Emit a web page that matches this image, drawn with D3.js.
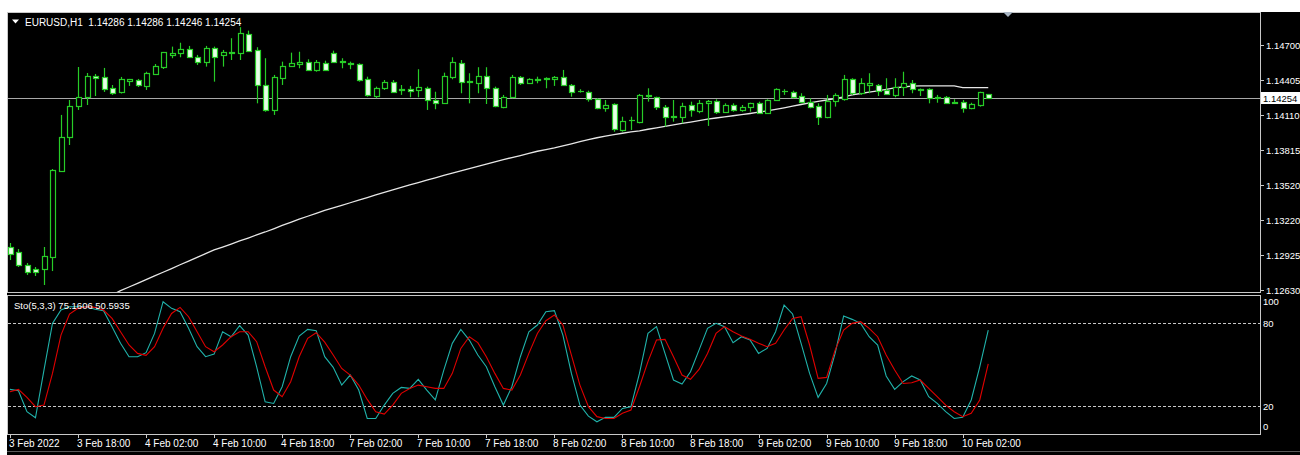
<!DOCTYPE html>
<html><head><meta charset="utf-8">
<script src="https://cdn.jsdelivr.net/npm/d3@7"></script>
<style>
html,body{margin:0;padding:0;background:#fff;}
svg{display:block;}
text{font-family:"Liberation Sans",Arial,sans-serif;}
</style></head><body>
<svg id="c" width="1300" height="455"></svg>
<script>
const symbolTitle = "EURUSD,H1";
const lastQuote = ["1.14286", "1.14286", "1.14246", "1.14254"];
const stoTitle = "Sto(5,3,3)";
const stoLast = ["75.1606", "50.5935"];

const opens = [1.12993,1.12951,1.12841,1.12807,1.12807,1.12909,1.13635,1.13923,1.14185,1.14261,
1.14438,1.14430,1.14337,1.14303,1.14396,1.14404,1.14354,1.14455,1.14517,1.14616,
1.14630,1.14664,1.14601,1.14559,1.14672,1.14616,1.14628,1.14630,1.14790,1.14658,
1.14362,1.14151,1.14419,1.14525,1.14539,1.14559,1.14489,1.14550,1.14635,1.14556,
1.14548,1.14537,1.14413,1.14269,1.14334,1.14390,1.14324,1.14326,1.14320,1.14339,
1.14235,1.14207,1.14427,1.14550,1.14396,1.14381,1.14438,1.14339,1.14179,1.14258,
1.14427,1.14381,1.14413,1.14410,1.14410,1.14427,1.14362,1.14314,1.14305,1.14241,
1.14165,1.14201,1.13982,1.14062,1.14052,1.14269,1.14258,1.14179,1.14098,1.14089,
1.14193,1.14145,1.14207,1.14229,1.14136,1.14193,1.14151,1.14179,1.14207,1.14128,
1.14235,1.14309,1.14305,1.14269,1.14221,1.14185,1.14089,1.14229,1.14241,1.14410,
1.14292,1.14362,1.14362,1.14320,1.14278,1.14343,1.14376,1.14328,1.14326,1.14261,
1.14258,1.14216,1.14221,1.14165,1.14193,1.14286];
const highs = [1.13027,1.12976,1.12858,1.12824,1.12993,1.13652,1.14109,1.14235,1.14514,1.14463,
1.14455,1.14506,1.14362,1.14430,1.14413,1.14413,1.14474,1.14539,1.14641,1.14686,
1.14719,1.14692,1.14616,1.14692,1.14686,1.14658,1.14757,1.14850,1.14821,1.14681,
1.14588,1.14447,1.14559,1.14635,1.14643,1.14579,1.14573,1.14567,1.14652,1.14588,
1.14559,1.14545,1.14432,1.14348,1.14404,1.14404,1.14362,1.14354,1.14495,1.14348,
1.14305,1.14466,1.14596,1.14573,1.14461,1.14512,1.14512,1.14348,1.14278,1.14447,
1.14438,1.14419,1.14432,1.14427,1.14438,1.14489,1.14370,1.14326,1.14314,1.14250,
1.14235,1.14207,1.14094,1.14094,1.14286,1.14334,1.14263,1.14193,1.14235,1.14212,
1.14221,1.14235,1.14235,1.14241,1.14207,1.14207,1.14193,1.14212,1.14221,1.14241,
1.14334,1.14326,1.14314,1.14292,1.14250,1.14207,1.14278,1.14292,1.14447,1.14419,
1.14419,1.14461,1.14370,1.14419,1.14419,1.14474,1.14404,1.14332,1.14334,1.14278,
1.14269,1.14241,1.14235,1.14212,1.14305,1.14286];
const lows = [1.12883,1.12824,1.12757,1.12748,1.12672,1.12790,1.13627,1.13855,1.14151,1.14193,
1.14269,1.14303,1.14278,1.14290,1.14354,1.14345,1.14320,1.14447,1.14497,1.14588,
1.14596,1.14596,1.14531,1.14517,1.14390,1.14517,1.14573,1.14573,1.14643,1.14207,
1.14136,1.14109,1.14362,1.14517,1.14503,1.14483,1.14474,1.14483,1.14550,1.14503,
1.14495,1.14390,1.14263,1.14250,1.14320,1.14297,1.14278,1.14258,1.14258,1.14151,
1.14157,1.14201,1.14410,1.14292,1.14207,1.14292,1.14201,1.14174,1.14165,1.14250,
1.14362,1.14370,1.14376,1.14334,1.14354,1.14354,1.14263,1.14297,1.14221,1.14157,
1.14136,1.13967,1.13967,1.13982,1.14038,1.14221,1.14151,1.14010,1.14052,1.14038,
1.14094,1.14123,1.14016,1.14117,1.14128,1.14136,1.14136,1.14136,1.14123,1.14123,
1.14229,1.14278,1.14250,1.14207,1.14165,1.14024,1.14081,1.14179,1.14229,1.14278,
1.14278,1.14292,1.14269,1.14278,1.14258,1.14269,1.14292,1.14269,1.14207,1.14212,
1.14207,1.14201,1.14128,1.14157,1.14179,1.14246];
const closes = [1.12934,1.12841,1.12782,1.12782,1.12917,1.13644,1.13923,1.14185,1.14261,1.14438,
1.14425,1.14328,1.14294,1.14413,1.14409,1.14362,1.14459,1.14523,1.14638,1.14630,
1.14664,1.14601,1.14559,1.14677,1.14601,1.14643,1.14641,1.14799,1.14652,1.14362,
1.14151,1.14427,1.14523,1.14550,1.14559,1.14489,1.14559,1.14489,1.14559,1.14565,
1.14535,1.14404,1.14278,1.14334,1.14390,1.14305,1.14316,1.14311,1.14343,1.14235,
1.14212,1.14438,1.14559,1.14390,1.14387,1.14438,1.14339,1.14185,1.14263,1.14432,
1.14381,1.14410,1.14408,1.14424,1.14432,1.14362,1.14305,1.14309,1.14241,1.14165,
1.14193,1.13988,1.14058,1.14070,1.14278,1.14278,1.14179,1.14089,1.14092,1.14185,
1.14151,1.14212,1.14229,1.14136,1.14193,1.14151,1.14179,1.14207,1.14128,1.14235,
1.14326,1.14314,1.14263,1.14221,1.14179,1.14089,1.14229,1.14278,1.14410,1.14292,
1.14381,1.14381,1.14314,1.14286,1.14343,1.14376,1.14326,1.14320,1.14250,1.14255,
1.14212,1.14210,1.14165,1.14201,1.14300,1.14254];

// moving average (white line), first value belongs to bar index maStart
const maStart = 12;
const maValues = [1.12588,1.12624,1.12655,1.12686,1.12718,1.12749,1.12780,1.12811,1.12843,1.12874,1.12905,1.12937,1.12968,
1.12993,1.13018,1.13044,1.13069,1.13095,1.13120,1.13147,1.13175,1.13202,1.13228,1.13253,1.13278,1.13302,
1.13323,1.13345,1.13367,1.13389,1.13411,1.13433,1.13454,1.13475,1.13496,1.13517,1.13537,1.13558,1.13578,
1.13598,1.13618,1.13637,1.13656,1.13675,1.13694,1.13712,1.13731,1.13749,1.13766,1.13784,1.13802,1.13816,
1.13831,1.13848,1.13865,1.13883,1.13901,1.13916,1.13929,1.13942,1.13954,1.13965,1.13975,1.13988,1.14000,
1.14012,1.14024,1.14037,1.14049,1.14061,1.14073,1.14083,1.14092,1.14102,1.14111,1.14121,1.14132,1.14143,
1.14156,1.14169,1.14183,1.14197,1.14211,1.14223,1.14235,1.14247,1.14262,1.14278,1.14290,1.14301,1.14313,
1.14325,1.14337,1.14345,1.14352,1.14354,1.14354,1.14354,1.14354,1.14354,1.14339,1.14339,1.14339,1.14339];

const stoK = [32.1,31.1,15.9,11.5,46.1,80.0,89.7,92.1,92.1,92.1,
90.2,89.2,77.6,65.5,55.8,55.8,58.7,72.7,95.7,90.9,
88.5,76.4,63.1,55.8,57.7,73.9,70.3,78.3,71.5,48.5,
23.1,21.9,34.0,55.8,70.8,75.6,74.7,55.8,48.1,35.2,
42.5,31.6,11.0,11.0,20.7,29.2,33.5,32.8,39.4,31.6,
24.4,46.1,65.5,75.6,67.9,57.0,48.5,34.0,20.7,34.0,
55.8,73.9,78.8,88.5,89.2,71.5,43.7,20.7,12.7,8.6,
11.8,11.8,18.3,19.5,43.7,72.7,77.6,58.2,38.9,36.0,
44.9,60.6,76.4,80.0,77.6,66.0,70.3,67.9,58.2,61.8,
73.9,93.3,86.8,65.5,43.7,26.3,36.4,58.2,85.3,82.9,
80.0,70.3,64.3,41.8,32.1,37.7,41.8,38.9,26.8,21.9,
15.9,11.0,11.8,24.4,48.5,75.1606];
const stoD = [30.4,32.1,26.3,19.5,20.7,43.7,71.5,86.8,90.9,92.1,
91.6,89.7,83.6,73.9,64.3,58.2,56.8,63.1,76.4,87.2,
91.6,84.8,73.9,63.1,59.4,64.3,70.3,73.9,73.9,66.7,
48.5,31.6,26.8,37.7,55.8,69.1,73.2,66.4,57.0,47.3,
42.5,35.2,24.8,15.9,14.2,20.7,29.2,32.8,35.2,34.0,
32.8,32.8,43.7,61.8,70.3,66.0,55.8,43.7,32.8,31.6,
42.5,58.2,72.7,81.9,86.0,78.8,57.0,35.2,19.5,12.3,
11.0,11.0,14.7,17.1,34.0,52.2,67.9,68.4,55.8,42.5,
39.4,46.6,58.2,72.7,77.6,73.9,70.8,68.4,65.5,63.1,
65.5,75.2,83.6,84.8,64.3,40.1,40.8,60.6,75.2,80.0,
81.2,76.4,70.3,57.0,46.1,36.4,36.9,38.9,32.8,26.8,
20.7,15.9,12.3,14.7,24.4,50.5935];

const priceTicks = ["1.14700","1.14405","1.14110","1.13815","1.13520","1.13220","1.12925","1.12630"];
const bidPrice = 1.14254;
const stoTicks = [100, 80, 20, 0];
const stoLevels = [80, 20];
const timeTickBars = [0,8,16,24,32,40,48,56,64,72,80,88,96,104,112];
const timeTickLabels = ["3 Feb 2022","3 Feb 18:00","4 Feb 02:00","4 Feb 10:00","4 Feb 18:00",
"7 Feb 02:00","7 Feb 10:00","7 Feb 18:00","8 Feb 02:00","8 Feb 10:00",
"8 Feb 18:00","9 Feb 02:00","9 Feb 10:00","9 Feb 18:00","10 Feb 02:00"];

// ---------- layout ----------
const W = 1300, H = 455;
const plotL = 8, plotR = 1260, mainT = 13, mainB = 292, stoT = 296, stoB = 434;
const frame = "#c8c8c8";
const candleColor = "#27cc27";
const bearFill = "#e6ffe6";

const svg = d3.select("#c");
svg.append("rect").attr("width", W).attr("height", H).attr("fill", "#fff");
svg.append("rect").attr("x", 7).attr("y", 12).attr("width", W - 7).attr("height", H - 12).attr("fill", "#000");

const defs = svg.append("defs");
defs.append("clipPath").attr("id", "clipMain").append("rect")
  .attr("x", plotL).attr("y", mainT).attr("width", plotR - plotL).attr("height", mainB - mainT);
defs.append("clipPath").attr("id", "clipSto").append("rect")
  .attr("x", plotL).attr("y", stoT).attr("width", plotR - plotL).attr("height", stoB - stoT);

const x = d3.scaleLinear().domain([0, 115]).range([9.94, 988.25]);
const y = d3.scaleLinear().domain([1.12613, 1.14970]).range([mainB, mainT]);
const ys = d3.scaleLinear().domain([0, 100]).range([433.6, 295.8]);
const crisp = v => Math.round(v) + 0.5;

// frames
svg.append("rect").attr("x", 7.5).attr("y", 12.5).attr("width", plotR - 7).attr("height", mainB - 12)
  .attr("fill", "none").attr("stroke", frame);
svg.append("rect").attr("x", 7.5).attr("y", 295.5).attr("width", plotR - 7).attr("height", stoB - 295)
  .attr("fill", "none").attr("stroke", frame);
svg.append("line").attr("x1", 7).attr("x2", W).attr("y1", 451.5).attr("y2", 451.5).attr("stroke", "#5a5a5a");

// price axis
const pAxis = svg.append("g");
priceTicks.forEach(t => {
  const yy = crisp(y(+t));
  pAxis.append("line").attr("x1", plotR).attr("x2", plotR + 4).attr("y1", yy).attr("y2", yy).attr("stroke", frame);
  pAxis.append("text").attr("x", 1266).attr("y", yy + 3.5).attr("fill", "#fff")
    .attr("font-size", "9.5px").text(t);
});

// bid line
const yb = crisp(y(bidPrice));
svg.append("line").attr("x1", plotL).attr("x2", plotR).attr("y1", yb).attr("y2", yb).attr("stroke", "#a8a8a8");

// MA line
const gMain = svg.append("g").attr("clip-path", "url(#clipMain)");
gMain.append("path").datum(maValues)
  .attr("d", d3.line().x((d, k) => x(maStart + k)).y(d => y(d)))
  .attr("fill", "none").attr("stroke", "#e6e6e6").attr("stroke-width", 1.3);

// candles
const bars = opens.map((o, i) => ({ i, o, h: highs[i], l: lows[i], c: closes[i] }));
gMain.selectAll("line.wick").data(bars).join("line").attr("class", "wick")
  .attr("x1", d => Math.round(x(d.i)) + 0.5).attr("x2", d => Math.round(x(d.i)) + 0.5)
  .attr("y1", d => y(d.h)).attr("y2", d => y(d.l))
  .attr("stroke", candleColor).attr("stroke-width", 1.2);
bars.forEach(d => {
  const cx = Math.round(x(d.i));
  const top = crisp(y(Math.max(d.o, d.c)));
  const bot = crisp(y(Math.min(d.o, d.c)));
  if (bot - top < 1) {
    gMain.append("line").attr("x1", cx - 2).attr("x2", cx + 4).attr("y1", top).attr("y2", top)
      .attr("stroke", candleColor).attr("stroke-width", 1.2);
  } else {
    gMain.append("rect").attr("x", cx - 1.5).attr("y", top).attr("width", 5).attr("height", bot - top)
      .attr("fill", d.c > d.o ? "#000" : bearFill).attr("stroke", candleColor).attr("stroke-width", 1.2);
  }
});

// bid label box
svg.append("rect").attr("x", 1261).attr("y", yb - 6.5).attr("width", 39).attr("height", 12).attr("fill", "#fff");
svg.append("text").attr("x", 1263).attr("y", yb + 3.5).attr("fill", "#000").attr("font-size", "9.5px")
  .text(bidPrice.toFixed(5));

// title
svg.append("path").attr("d", "M12,19.5 L19,19.5 L15.5,23.5 Z").attr("fill", "#fff");
svg.append("text").attr("x", 25).attr("y", 25.5).attr("fill", "#fff").attr("font-size", "10px")
  .attr("xml:space", "preserve")
  .text(symbolTitle + "  " + lastQuote.join(" "));

// shift marker
svg.append("path").attr("d", "M1003,12 L1013,12 L1008,17 Z").attr("fill", "#a9b6c4");

// stochastic
stoLevels.forEach(v => {
  const yy = crisp(ys(v));
  svg.append("line").attr("x1", plotL).attr("x2", plotR).attr("y1", yy).attr("y2", yy)
    .attr("stroke", "#c8c8c8").attr("stroke-dasharray", "3,2");
});
const gSto = svg.append("g").attr("clip-path", "url(#clipSto)");
const sLine = d3.line().x((d, i) => x(i)).y(d => ys(d));
gSto.append("path").datum(stoK).attr("d", sLine).attr("fill", "none").attr("stroke", "#20b2aa").attr("stroke-width", 1.1);
gSto.append("path").datum(stoD).attr("d", sLine).attr("fill", "none").attr("stroke", "#e00000").attr("stroke-width", 1.1);
svg.append("text").attr("x", 14).attr("y", 308.5).attr("fill", "#fff").attr("font-size", "9.5px")
  .text(stoTitle + " " + stoLast.join(" "));
stoTicks.forEach(v => {
  let yy = ys(v) + 3.5;
  if (v === 100) yy = ys(v) + 9.5;
  if (v === 0) yy = ys(v) - 3.5;
  svg.append("text").attr("x", 1263).attr("y", yy).attr("fill", "#fff").attr("font-size", "9.5px").text(v);
});

// time axis
timeTickBars.forEach((b, k) => {
  const xx = Math.round(x(b)) + 0.5;
  svg.append("line").attr("x1", xx).attr("x2", xx).attr("y1", stoB).attr("y2", stoB + 4).attr("stroke", frame);
  svg.append("text").attr("x", xx - 1.5).attr("y", 447).attr("fill", "#fff").attr("font-size", "10px")
    .text(timeTickLabels[k]);
});
</script>
</body></html>
